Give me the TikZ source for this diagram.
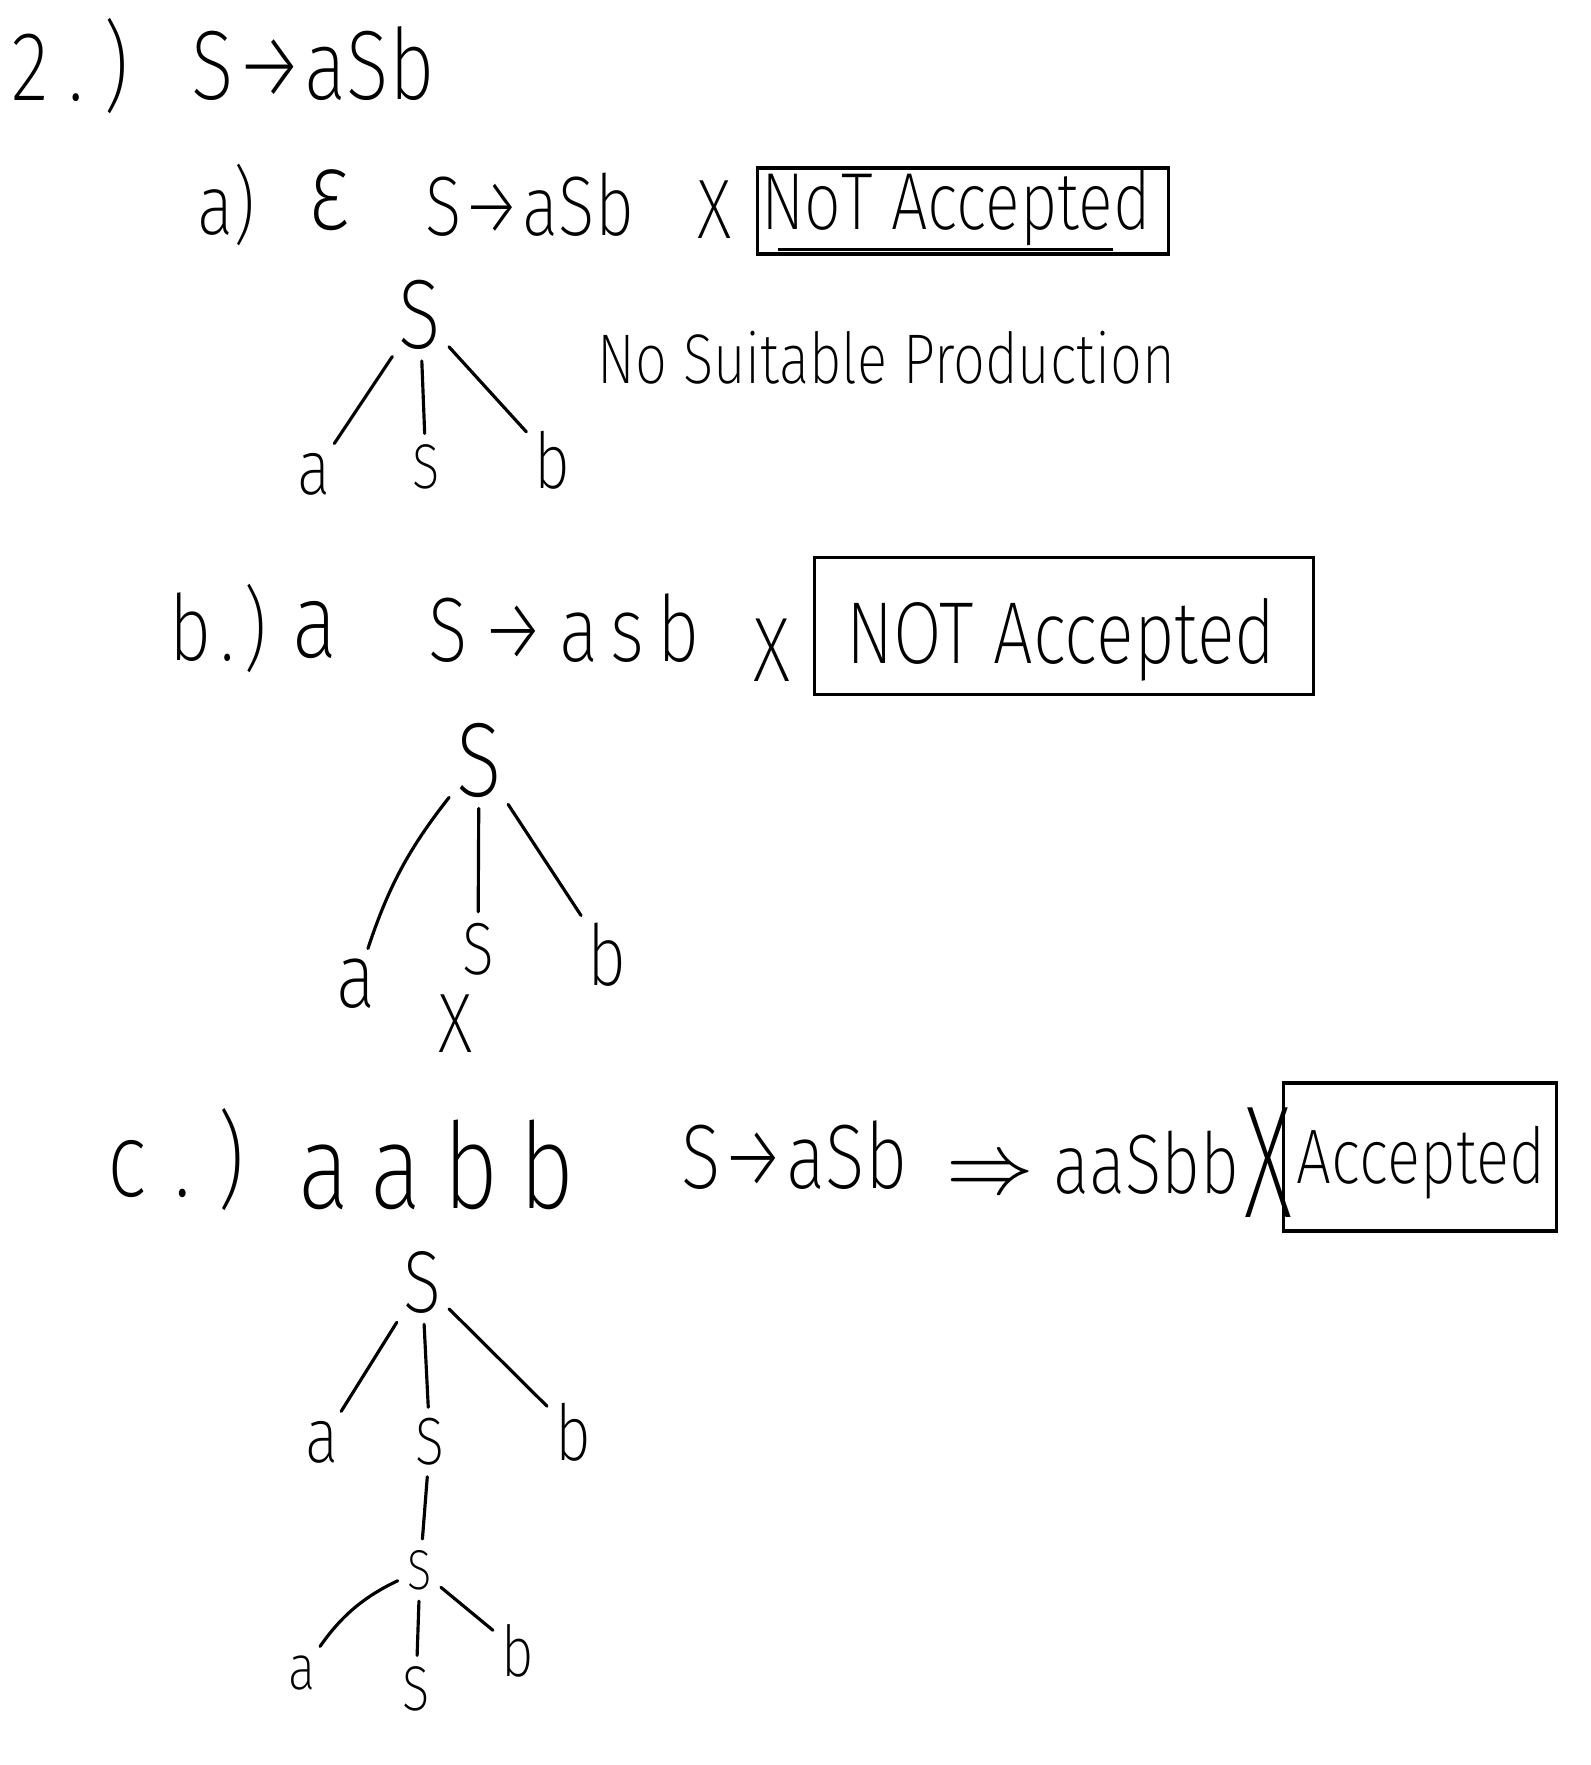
\documentclass[tikz,border=0pt]{standalone}
\usepackage{fontspec}
\setmainfont{Fira Sans ExtraLight}[FakeStretch=0.8]
\usepackage{tikz}
\usetikzlibrary{calc}

\begin{document}
\begin{tikzpicture}[x=0.01cm, y=-0.01cm,
    hw/.style={inner sep=0pt, font=\fontsize{#1}{#1}\selectfont},
    hw/.default=24,
    wide/.style={execute at begin node={\addfontfeature{LetterSpace=#1}}},
    verdict/.style={draw, line width=0.9pt, inner sep=0pt},
    branch/.style={line width=0.9pt, line cap=round, shorten <=3pt, shorten >=3pt}
]
    \useasboundingbox (0,0) rectangle (1591,1765);

    \node[hw=28, wide=20, anchor=west] (num) at (11,66) {2.)};
    \node[hw=28, anchor=west] (rule) at (191,64) {S→aSb};

    \node[hw=24, anchor=west] (parta) at (197,205) {a)};
    \node[hw=32, anchor=west] (eps) at (308,200) {ε};
    \node[hw=24, anchor=west] (rulea) at (425,205) {S→aSb};
    \node[hw=24] (xa) at (715,210) {X};
    \node[verdict, minimum width=4.11cm, minimum height=0.86cm] (boxa) at (963,211) {};
    \node[hw=23] (vera) at (956,208) {NoT Accepted};
    \draw[line width=0.9pt] ($(boxa.south west)+(22,-6)$) -- ($(boxa.south west)+(357,-6)$);

    \node[hw=28] (Sa) at (420,315) {S};
    \node[hw=22] (aa) at (314,474) {a};
    \node[hw=18] (sa) at (426,467) {S};
    \node[hw=22] (ba) at (552,460) {b};
    \draw[branch] (Sa) -- (aa);
    \draw[branch] (Sa) -- (sa);
    \draw[branch] (Sa) -- (ba);
    \node[hw=20, anchor=west] (nosuit) at (597,358) {No Suitable Production};

    \node[hw=26, wide=10, anchor=west] (partb) at (169,628) {b.)};
    \node[hw=30, anchor=west] (wordb) at (292,630) {a};
    \node[hw=26, wide=14, anchor=west] (ruleb) at (428,628) {S→asb};
    \node[hw=26] (xb) at (772,650) {X};
    \node[verdict, minimum width=4.99cm, minimum height=1.37cm] (boxb) at (1064,626) {};
    \node[hw=25] (verb) at (1061,640) {NOT Accepted};

    \node[hw=30] (Sb) at (479,760) {S};
    \node[hw=26] (ab) at (356,984) {a};
    \node[hw=21] (sb) at (478,949) {S};
    \node[hw=24] (bb) at (607,955) {b};
    \node[hw=24] (xs) at (456,1024) {X};
    \draw[branch] (Sb) to[bend right=10] (ab);
    \draw[branch] (Sb) -- (sb);
    \draw[branch] (Sb) -- (bb);

    \node[hw=30, wide=25, anchor=west] (partc) at (107,1160) {c.)};
    \node[hw=34, wide=18, anchor=west] (wordc) at (298,1165) {aabb};
    \node[hw=26, anchor=west] (rulec) at (681,1155) {S→aSb};
    \node[hw=24, anchor=west] (deriv) at (946,1163) {$\Rightarrow$ aaSbb};
    \node[hw=24] (cross) at (1268,1163) {\scalebox{1.4}[1.9]{X}};
    \node[verdict, minimum width=2.73cm, minimum height=1.48cm] (boxc) at (1420,1157) {};
    \node[hw=22] (verc) at (1421,1163) {Accepted};

    \node[hw=25] (Sc) at (422,1282) {S};
    \node[hw=22] (ac) at (322,1442) {a};
    \node[hw=19] (sc) at (430,1442) {S};
    \node[hw=22] (bc) at (573,1432) {b};
    \node[hw=16] (Sd) at (420,1570) {S};
    \node[hw=18] (ad) at (302,1673) {a};
    \node[hw=18] (sd) at (416,1689) {S};
    \node[hw=20] (bd) at (518,1651) {b};
    \draw[branch] (Sc) -- (ac);
    \draw[branch] (Sc) -- (sc);
    \draw[branch] (Sc) -- (bc);
    \draw[branch] (sc) -- (Sd);
    \draw[branch] (Sd) to[bend right=15] (ad);
    \draw[branch] (Sd) -- (sd);
    \draw[branch] (Sd) -- (bd);
\end{tikzpicture}
\end{document}
